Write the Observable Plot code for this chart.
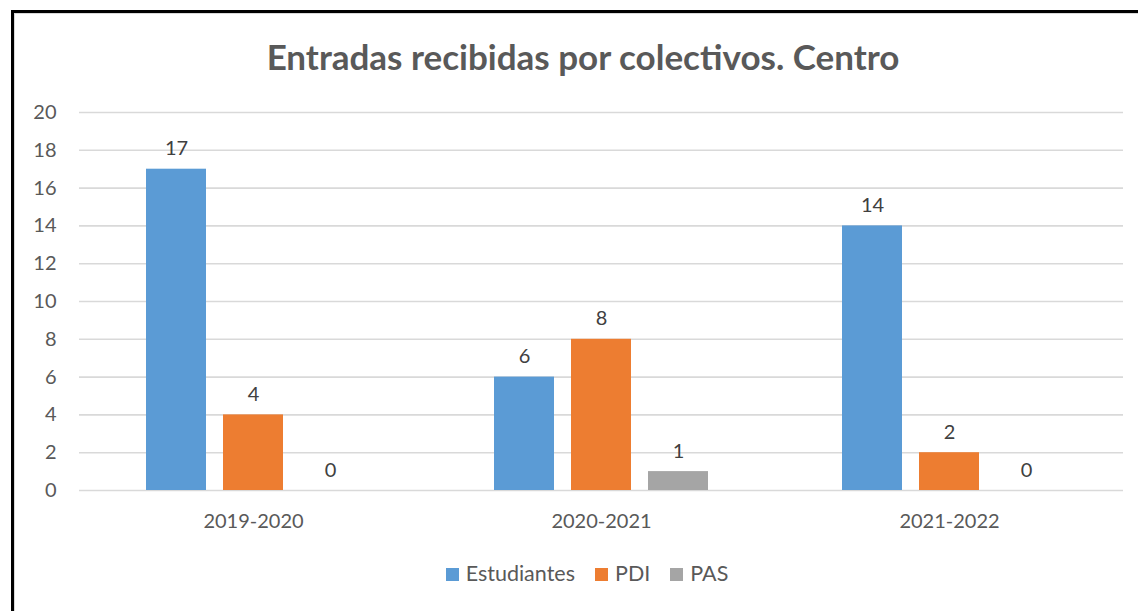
<!DOCTYPE html>
<html>
<head>
<meta charset="utf-8">
<script src="https://cdn.jsdelivr.net/npm/d3@7"></script>
<script src="https://cdn.jsdelivr.net/npm/@observablehq/plot@0.6"></script>
<style>
  html, body { margin: 0; padding: 0; background: #fff; width: 1138px; height: 611px; overflow: hidden; }
  #frame { position: absolute; left: 11px; top: 10px; width: 1200px; height: 700px;
           border-left: 3px solid #000; border-top: 3px solid #000; box-sizing: border-box; }
  #shadow { position: absolute; left: 14px; top: 13px; width: 1200px; height: 700px;
            border-left: 1.5px solid #d9d9d9; border-top: 1.5px solid #d9d9d9; box-sizing: border-box; }
  #title { position: absolute; left: 0; width: 1166px; top: 35px; text-align: center;
           font-family: Lato, sans-serif; font-weight: bold; font-size: 35px; color: #595959; }
  #chart { position: absolute; left: 0; top: 90px; }
  #legend { position: absolute; left: 0; width: 1174px; top: 560px; text-align: center;
            font-family: Lato, sans-serif; font-size: 21.5px; color: #595959; }
  #legend span.item { margin: 0 10px; white-space: nowrap; }
  #legend span.sw { display: inline-block; width: 13px; height: 13px; margin-right: 7px; vertical-align: 0px; }
</style>
</head>
<body>
<div id="frame"></div>
<div id="shadow"></div>
<div id="title">Entradas recibidas por colectivos. Centro</div>
<div id="chart"></div>
<div id="legend"></div>
<script>
const categories = ["2019-2020", "2020-2021", "2021-2022"];
const series = ["Estudiantes", "PDI", "PAS"];
const estudiantes = [17, 6, 14];
const pdi = [4, 8, 2];
const pas = [0, 1, 0];
const colors = ["#5B9BD5", "#ED7D31", "#A5A5A5"];
const yTicks = [0, 2, 4, 6, 8, 10, 12, 14, 16, 18, 20];

const values = [estudiantes, pdi, pas];
const data = [];
categories.forEach((c, i) => {
  series.forEach((s, j) => data.push({category: c, series: s, value: values[j][i]}));
});

const font = "Lato, sans-serif";
const chart = Plot.plot({
  width: 1138,
  height: 460,
  marginTop: 22,
  marginBottom: 60,
  marginLeft: 78,
  marginRight: 15,
  style: {fontFamily: font, fontSize: "20px", color: "#595959", background: "transparent", overflow: "visible"},
  fx: {domain: categories, paddingInner: 0, paddingOuter: 0, label: null},
  x: {domain: series, paddingInner: 0.215, paddingOuter: 0.84, axis: null},
  y: {domain: [0, 20], label: null},
  color: {domain: series, range: colors},
  marks: [
    Plot.ruleY(yTicks, {stroke: "#d9d9d9", strokeWidth: 1.6}),
    Plot.barY(data, {fx: "category", x: "series", y: "value", fill: "series"}),
    Plot.text(data, {fx: "category", x: "series", y: "value", text: d => String(d.value),
      lineAnchor: "bottom", dy: -14, fill: "#404040", fontSize: 20}),
    Plot.axisY({ticks: yTicks, tickSize: 0, tickPadding: 23, fontSize: 20, fill: "#595959", label: null}),
    Plot.axisFx({anchor: "bottom", tickSize: 0, tickPadding: 23, fontSize: 20, fill: "#595959", label: null})
  ]
});
document.getElementById("chart").appendChild(chart);

const legend = document.getElementById("legend");
series.forEach((s, i) => {
  const item = document.createElement("span");
  item.className = "item";
  const sw = document.createElement("span");
  sw.className = "sw";
  sw.style.background = colors[i];
  item.appendChild(sw);
  item.appendChild(document.createTextNode(s));
  legend.appendChild(item);
});
</script>
</body>
</html>
